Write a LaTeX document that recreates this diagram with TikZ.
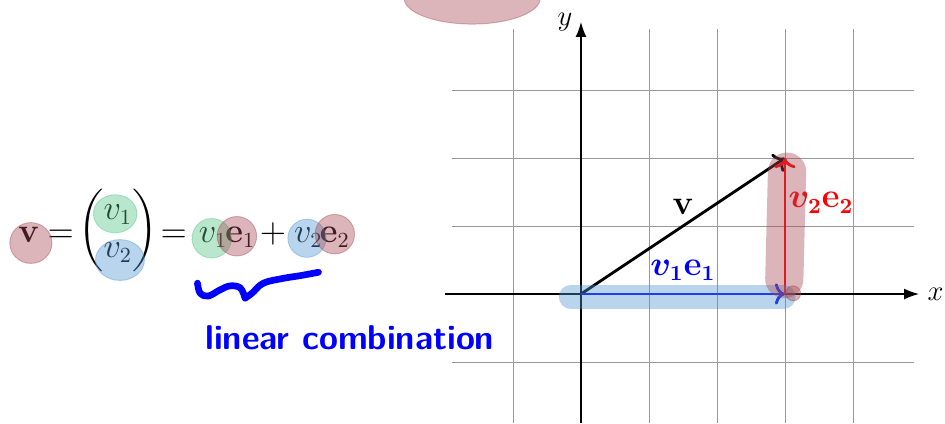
\documentclass[tikz,border=0pt]{standalone}
\usepackage{amsmath}
\usepackage{tikz}
\usetikzlibrary{positioning, arrows.meta, calc}
\definecolor{myRed}{RGB}{165,70,80}
\definecolor{myGreen}{RGB}{80,195,130}
\definecolor{myBlue}{RGB}{80,150,210}

\begin{document}
\begin{tikzpicture}[
  blobR/.style={fill=myRed, draw=myRed, line width=0.4pt, opacity=0.4},
  blobG/.style={fill=myGreen, draw=myGreen, line width=0.4pt, opacity=0.4},
  blobB/.style={fill=myBlue, draw=myBlue, line width=0.4pt, opacity=0.4},
  axis/.style={-{Latex[length=2.2mm, width=1.6mm]}, line width=0.5pt},
  vec/.style={->, very thick},
  lab/.style={font=\fontsize{13.5pt}{16pt}\selectfont},
  eqn/.style={font=\fontsize{13.5pt}{16pt}\selectfont, inner sep=0pt, anchor=base},
  ink/.style={blue, line width=2.8pt, line cap=round, line join=round},
  hand/.style={blue, font=\sffamily\bfseries\Large},
]
  \useasboundingbox (-8.544,-1.897) rectangle (5.353,4.324);
  \draw[gray!80, line width=0.4pt] (-1.9,-1.9) grid (4.9,3.9);

  \coordinate (O) at (0,0);
  \coordinate (P) at (3,0);
  \coordinate (V) at (3,2);
  \coordinate (xa) at (-2,0);
  \coordinate (xb) at (4.97,0);
  \coordinate (ya) at (0,-1.9);
  \coordinate (yb) at (0,4.0);

  \draw[axis] (xa) -- (xb) node[right, font=\large] (xl) {$x$};
  \draw[axis] (ya) -- (yb) node[left, font=\large] (yl) {$y$};

  \draw[vec] (O) -- (V);
  \draw[vec, blue] (O) -- (P);
  \draw[vec, red] (P) -- (V);
  \node[lab] (vl) at (1.5,1.28) {$\mathbf{v}$};
  \node[lab, blue] (pl) at (1.5,0.35) {$\boldsymbol{v_1\mathbf{e}_1}$};
  \node[lab, red] (ql) at (3.53,1.34) {$\boldsymbol{v_2\mathbf{e}_2}$};

  \node[eqn] (lhs) at (-8.12,0.765) {$\mathbf{v}$};
  \node[eqn] (eq1) at (-7.65,0.765) {$=$};
  \node[eqn, anchor=center] (mat) at (-6.81,0.93)
    {\setlength\arraycolsep{2.5pt}$\begin{pmatrix} v_1 \\ v_2 \end{pmatrix}$};
  \node[eqn] (eq2) at (-5.99,0.765) {$=$};
  \node[eqn] (t1) at (-5.41,0.765) {$v_1$};
  \node[eqn] (t2) at (-5.01,0.765) {$\mathbf{e}_1$};
  \node[eqn] (plus) at (-4.53,0.765) {$+$};
  \node[eqn] (t3) at (-4.01,0.765) {$v_2$};
  \node[eqn] (t4) at (-3.62,0.765) {$\mathbf{e}_2$};

  \filldraw[blobR] (-8.09,0.75) ellipse (0.31 and 0.30);
  \filldraw[blobG] (-6.85,1.18) ellipse (0.32 and 0.28);
  \filldraw[blobB] (-6.78,0.50) ellipse (0.36 and 0.30);
  \filldraw[blobG] (-5.43,0.82) circle (0.29);
  \filldraw[blobR] (-5.06,0.85) circle (0.29);
  \filldraw[blobB] (-4.03,0.82) circle (0.28);
  \filldraw[blobR] (-3.62,0.88) circle (0.29);
  \filldraw[blobR] (-1.6,4.35) ellipse (1.0 and 0.38);

  \draw[myBlue, opacity=0.4, line width=10pt, line cap=round] (-0.15,-0.04) -- (2.98,-0.04);
  \draw[myRed, opacity=0.4, line width=16pt, line cap=round] (3.03,1.80) -- (2.99,0.22);
  \filldraw[blobR] (3.12,0.01) circle (0.11);

  \draw[ink] plot[smooth, tension=0.6] coordinates
    {(-5.64,0.16) (-5.60,0.01) (-5.48,-0.03) (-5.31,0.06) (-5.16,0.12) (-5.01,0.09) (-4.94,-0.06)};
  \draw[ink] plot[smooth, tension=0.6] coordinates
    {(-4.94,-0.06) (-4.84,0.01) (-4.67,0.16) (-4.38,0.23) (-4.13,0.27) (-3.86,0.32)};
  \node[hand] (lc) at (-3.40,-0.65) {linear combination};
\end{tikzpicture}
\end{document}
